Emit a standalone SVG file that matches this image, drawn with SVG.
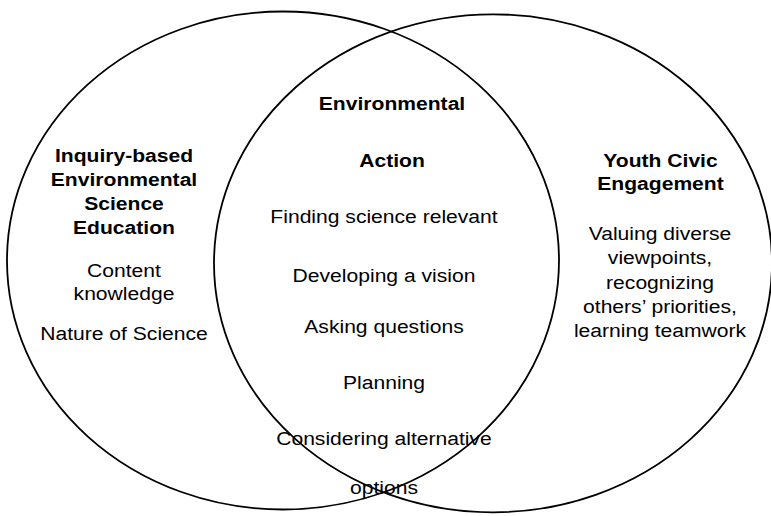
<svg xmlns="http://www.w3.org/2000/svg" width="771" height="516" viewBox="0 0 771 516">
  <style>
    .set { fill: none; stroke: #000; stroke-width: 1.8; }
    text { font-family: "Liberation Sans", Arial, sans-serif; font-size: 19px; fill: #000; text-anchor: middle; }
    .title { font-weight: bold; }
  </style>
  <rect width="771" height="516" fill="#fff"/>

  <!-- Venn circles -->
  <g id="connectors"></g>
  <g id="set-left">
    <ellipse class="set" cx="283" cy="260.5" rx="276" ry="249"/>
  </g>
  <g id="set-right">
    <ellipse class="set" cx="493" cy="263.3" rx="279" ry="249"/>
  </g>

  <!-- Left set: inquiry-based science education -->
  <g id="label-left">
    <text class="title" transform="translate(124,162) scale(1.11,1)">Inquiry-based</text>
    <text class="title" transform="translate(124,186) scale(1.11,1)">Environmental</text>
    <text class="title" transform="translate(124,210) scale(1.11,1)">Science</text>
    <text class="title" transform="translate(124,234) scale(1.11,1)">Education</text>
    <text transform="translate(124,277) scale(1.11,1)">Content</text>
    <text transform="translate(124,300) scale(1.11,1)">knowledge</text>
    <text transform="translate(124,340) scale(1.11,1)">Nature of Science</text>
  </g>

  <!-- Overlap: environmental action -->
  <g id="label-center">
    <text class="title" transform="translate(392,110) scale(1.11,1)">Environmental</text>
    <text class="title" transform="translate(392,167) scale(1.11,1)">Action</text>
    <text transform="translate(384,223) scale(1.11,1)">Finding science relevant</text>
    <text transform="translate(384,282) scale(1.11,1)">Developing a vision</text>
    <text transform="translate(384,333) scale(1.11,1)">Asking questions</text>
    <text transform="translate(384,389) scale(1.11,1)">Planning</text>
    <text transform="translate(384,445) scale(1.11,1)">Considering alternative</text>
    <text transform="translate(384,494) scale(1.11,1)">options</text>
  </g>

  <!-- Right set: youth civic engagement -->
  <g id="label-right">
    <text class="title" transform="translate(660.5,166.5) scale(1.11,1)">Youth Civic</text>
    <text class="title" transform="translate(660.5,190) scale(1.11,1)">Engagement</text>
    <text transform="translate(660,240) scale(1.11,1)">Valuing diverse</text>
    <text transform="translate(660,264) scale(1.11,1)">viewpoints,</text>
    <text transform="translate(660,289) scale(1.11,1)">recognizing</text>
    <text transform="translate(660,313) scale(1.11,1)">others’ priorities,</text>
    <text transform="translate(660,337) scale(1.11,1)">learning teamwork</text>
  </g>
</svg>
